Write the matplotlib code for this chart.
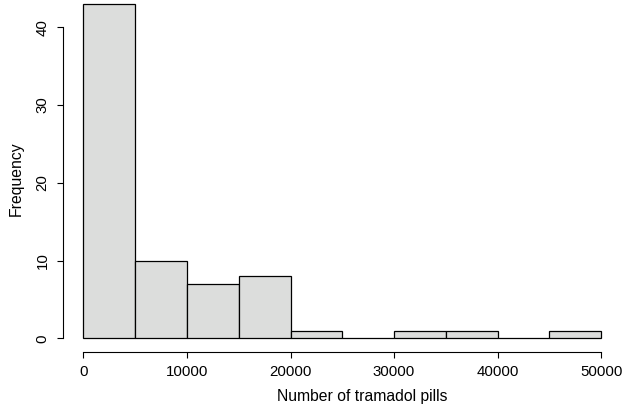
import matplotlib
matplotlib.use("Agg")
import matplotlib.pyplot as plt
import numpy as np

plt.rcParams['font.family'] = ['Liberation Sans', 'DejaVu Sans']

bin_edges = [0, 5000, 10000, 15000, 20000, 25000, 30000, 35000, 40000, 45000, 50000]
counts = [43, 10, 7, 8, 1, 0, 1, 1, 0, 1]
xticks = [0, 10000, 20000, 30000, 40000, 50000]
yticks = [0, 10, 20, 30, 40]

fig = plt.figure(figsize=(6.26, 4.08), dpi=100)
ax = fig.add_axes([0.1, 0.138, 0.8936, 0.885])

lefts = np.array(bin_edges[:-1])
widths = np.diff(bin_edges)
ax.bar(lefts, counts, width=widths, align='edge', color='#dcdddc',
       edgecolor='black', linewidth=0.9)

ax.set_xlim(-2000, 52000)
ax.set_ylim(-1.72, 44.72)

for s in ['top', 'right']:
    ax.spines[s].set_visible(False)
ax.spines['left'].set_bounds(0, 40)
ax.spines['bottom'].set_bounds(0, 50000)
ax.spines['left'].set_position(('data', -2000))
ax.spines['bottom'].set_position(('data', -1.72))
ax.spines['left'].set_linewidth(0.8)
ax.spines['bottom'].set_linewidth(0.8)

ax.set_xticks(xticks)
ax.set_xticklabels([str(v) for v in xticks])
ax.set_yticks(yticks)
ax.set_yticklabels([str(v) for v in yticks], rotation=90, va='center')
ax.tick_params(axis='both', labelsize=10.8, length=4.5, width=0.8, direction='out')
ax.tick_params(axis='x', pad=5)
ax.tick_params(axis='y', pad=5)

ax.set_xlabel('Number of tramadol pills', fontsize=11.3)
ax.xaxis.set_label_coords(0.535, -0.103)
ax.set_ylabel('Frequency', fontsize=11.3)
ax.yaxis.set_label_coords(-0.069, 0.478)

fig.savefig('out.png', dpi=100)
